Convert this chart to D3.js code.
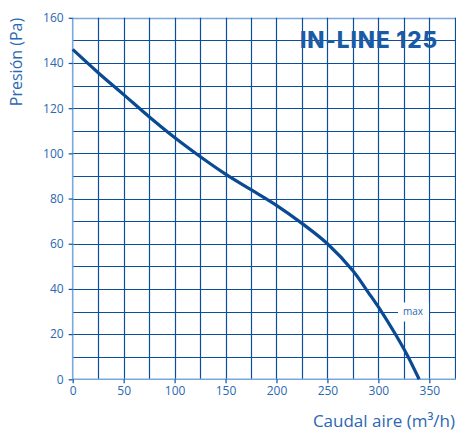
<!DOCTYPE html>
<html><head><meta charset="utf-8">
<script src="https://cdn.jsdelivr.net/npm/d3@7"></script>
<style>
html,body{margin:0;padding:0;background:#fff;}
svg{display:block;font-family:"Open Sans","DejaVu Sans",sans-serif;}
</style></head>
<body><svg id="c" width="456" height="432"></svg>
<script>
const flow = [0,25,50,75,100,125,150,175,200,225,250,275,290,303,316,328,340];
const pressure = [146,135.7,126,116.2,107,98.6,90.8,83.9,77,69,60,48,38.5,30,20.5,11,0];
const xTicks = [0,50,100,150,200,250,300,350];
const yTicks = [0,20,40,60,80,100,120,140,160];
const title = "IN-LINE 125";
const xTitle = "Caudal aire (m³/h)";
const yTitle = "Presión (Pa)";
const maxLabel = {x:334, y:30, text:"max"};

const svg = d3.select("#c");
const x = d3.scaleLinear().domain([0,375]).range([72.7,454.8]);
const y = d3.scaleLinear().domain([0,160]).range([379.3,17.8]);
const gridC = "#0b4f9c", axisC = "#7aa7dc", textC = "#2a68b1", curveC = "#0a4a93";

// grid
const g = svg.append("g");
g.selectAll("line.h").data(d3.range(10,161,10)).join("line")
  .attr("x1",x(0)).attr("x2",456).attr("y1",d=>Math.round(y(d))+0.5).attr("y2",d=>Math.round(y(d))+0.5)
  .attr("stroke",d=>d===160?axisC:gridC).attr("stroke-width",d=>d===160?1.6:1.2);
g.selectAll("line.v").data(d3.range(25,376,25)).join("line")
  .attr("y1",y(160)).attr("y2",y(0)).attr("x1",d=>Math.round(x(d))+0.5).attr("x2",d=>Math.round(x(d))+0.5)
  .attr("stroke",gridC).attr("stroke-width",1.2);

// axes
const ya = svg.append("g").attr("transform",`translate(${x(0)},0)`)
  .call(d3.axisLeft(y).tickValues(yTicks).tickSize(4).tickPadding(5));
const xa = svg.append("g").attr("transform",`translate(0,${y(0)})`)
  .call(d3.axisBottom(x).tickValues(xTicks).tickSize(4).tickPadding(3));
[ya,xa].forEach(a=>{
  a.select(".domain").attr("stroke",axisC).attr("stroke-width",1.6);
  a.selectAll(".tick line").attr("stroke",gridC).attr("stroke-width",1.2);
  a.selectAll(".tick text").attr("fill",textC).style("font-size","12px").style("font-family","Open Sans, DejaVu Sans, sans-serif");
});
ya.select(".domain").attr("d",`M0,${y(160)}V${y(0)}`);
xa.select(".domain").attr("d",`M${x(0)},0H456`);

// curve
const pts = flow.map((f,i)=>[f,pressure[i]]);
svg.append("path").datum(pts)
  .attr("d",d3.line().x(d=>x(d[0])).y(d=>y(d[1])).curve(d3.curveCatmullRom.alpha(0.5)))
  .attr("fill","none").attr("stroke",curveC).attr("stroke-width",3.2).attr("stroke-linecap","butt");

// max label
svg.append("rect").attr("x",x(maxLabel.x)-15).attr("y",y(maxLabel.y)-9).attr("width",31).attr("height",19).attr("fill","#fff");
svg.append("text").attr("x",x(maxLabel.x)).attr("y",y(maxLabel.y)+3.5).attr("text-anchor","middle")
  .attr("fill",textC).style("font-size","10px").text(maxLabel.text);

// title
svg.append("text").attr("x",438).attr("y",48).attr("text-anchor","end")
  .attr("fill","#1a5ba6").style("font-size","22.5px").style("font-weight","800")
  .style("font-family","Inter, Open Sans, sans-serif").style("letter-spacing","0.9px").text(title);

// axis titles
svg.append("text").attr("x",455).attr("y",427).attr("text-anchor","end")
  .attr("fill",textC).style("font-size","17px").text(xTitle);
svg.append("text").attr("transform","translate(22,62) rotate(-90)").attr("text-anchor","middle")
  .attr("fill",textC).style("font-size","16px").text(yTitle);
</script></body></html>
